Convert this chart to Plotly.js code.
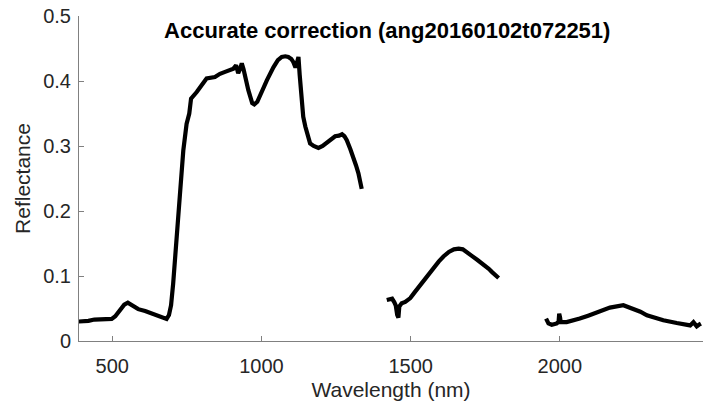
<!DOCTYPE html>
<html>
<head>
<meta charset="utf-8">
<script src="https://cdn.plot.ly/plotly-3.0.1.min.js"></script>
<style>html,body{margin:0;padding:0;background:#fff;}#chart{width:704px;height:405px;}</style>
</head>
<body>
<div id="chart"></div>
<script>
// Segment 1 (VNIR / NIR)
const wl1 = [388,400,420,440,470,498,510,525,540,552,565,587,610,632,650,671,682,690,697,704,710,716,727,738,749,758,764,783,805,816,844,861,878,906,915,922,928,934,940,948,956,969,976,986,1006,1018,1040,1055,1068,1080,1090,1100,1107,1114,1119,1124,1128,1133,1140,1147,1154,1163,1175,1191,1205,1219,1235,1247,1260,1270,1278,1286,1298,1308,1317,1325,1336];
const r1  = [0.030,0.030,0.031,0.033,0.033,0.034,0.038,0.048,0.056,0.059,0.055,0.049,0.046,0.042,0.040,0.035,0.034,0.040,0.055,0.088,0.120,0.155,0.227,0.293,0.334,0.350,0.373,0.383,0.396,0.404,0.406,0.411,0.414,0.419,0.424,0.412,0.418,0.427,0.418,0.398,0.386,0.366,0.364,0.368,0.391,0.401,0.421,0.432,0.437,0.438,0.437,0.434,0.429,0.421,0.428,0.437,0.410,0.380,0.345,0.330,0.319,0.304,0.300,0.297,0.300,0.305,0.311,0.315,0.316,0.318,0.315,0.309,0.295,0.283,0.270,0.258,0.234];
// Segment 2 (SWIR 1)
const wl2 = [1420,1430,1438,1445,1450,1455,1459,1462,1470,1482,1499,1512,1527,1545,1561,1578,1594,1610,1628,1645,1661,1675,1689,1705,1723,1740,1751,1762,1773,1785,1795];
const r2  = [0.063,0.064,0.065,0.060,0.055,0.040,0.036,0.053,0.058,0.060,0.066,0.074,0.083,0.095,0.104,0.114,0.122,0.130,0.137,0.141,0.142,0.141,0.137,0.131,0.125,0.119,0.116,0.111,0.106,0.100,0.097];
// Segment 3 (SWIR 2)
const wl3 = [1954,1962,1973,1990,1996,1998,2001,2003,2023,2045,2067,2095,2124,2168,2213,2246,2270,2292,2320,2347,2392,2437,2448,2459,2466,2473];
const r3  = [0.0345,0.027,0.025,0.027,0.030,0.042,0.036,0.029,0.029,0.031,0.0345,0.039,0.0446,0.0514,0.055,0.050,0.045,0.0395,0.035,0.032,0.0277,0.024,0.029,0.0226,0.025,0.0268];

const titleText = 'Accurate correction (ang20160102t072251)';
const xTitle = 'Wavelength (nm)';
const yTitle = 'Reflectance';
const xTickVals = [500,1000,1500,2000];
const xTickText = ['500','1000','1500','2000'];
const yTickVals = [0,0.1,0.2,0.3,0.4,0.5];
const yTickText = ['0','0.1','0.2','0.3','0.4','0.5'];

const lineStyle = {color:'#000000', width:4.2, shape:'linear'};
const traces = [
  {x: wl1, y: r1, mode:'lines', line: lineStyle, hoverinfo:'skip'},
  {x: wl2, y: r2, mode:'lines', line: lineStyle, hoverinfo:'skip'},
  {x: wl3, y: r3, mode:'lines', line: lineStyle, hoverinfo:'skip'}
];

const fontFam = '"Liberation Sans", Arial, Helvetica, sans-serif';
const axisCommon = {
  showline:true, linecolor:'#808080', linewidth:1, mirror:false,
  ticks:'inside', ticklen:5, tickcolor:'#808080', tickwidth:1,
  showgrid:false, zeroline:false,
  tickfont:{family:fontFam, size:20, color:'#262626'}
};

const layout = {
  width:704, height:405,
  paper_bgcolor:'#ffffff', plot_bgcolor:'#ffffff',
  showlegend:false,
  margin:{l:79, r:1, t:16, b:64},
  title:{text:'<b>'+titleText+'</b>', font:{family:fontFam, size:22, color:'#000000'},
         xref:'paper', x:0.494, xanchor:'center', yref:'container', y:1-30/405, yanchor:'middle'},
  xaxis: Object.assign({}, axisCommon, {
    range:[388.4, 2480], tickmode:'array', tickvals:xTickVals, ticktext:xTickText,
    ticklabelstandoff:7,
    title:{text:xTitle, font:{family:fontFam, size:21, color:'#262626'}, standoff:6}
  }),
  yaxis: Object.assign({}, axisCommon, {
    range:[0,0.5], tickmode:'array', tickvals:yTickVals, ticktext:yTickText,
    ticklabelstandoff:3,
    title:{text:yTitle, font:{family:fontFam, size:21, color:'#262626'}, standoff:6}
  })
};

Plotly.newPlot('chart', traces, layout, {staticPlot:true, displayModeBar:false});
</script>
</body>
</html>
